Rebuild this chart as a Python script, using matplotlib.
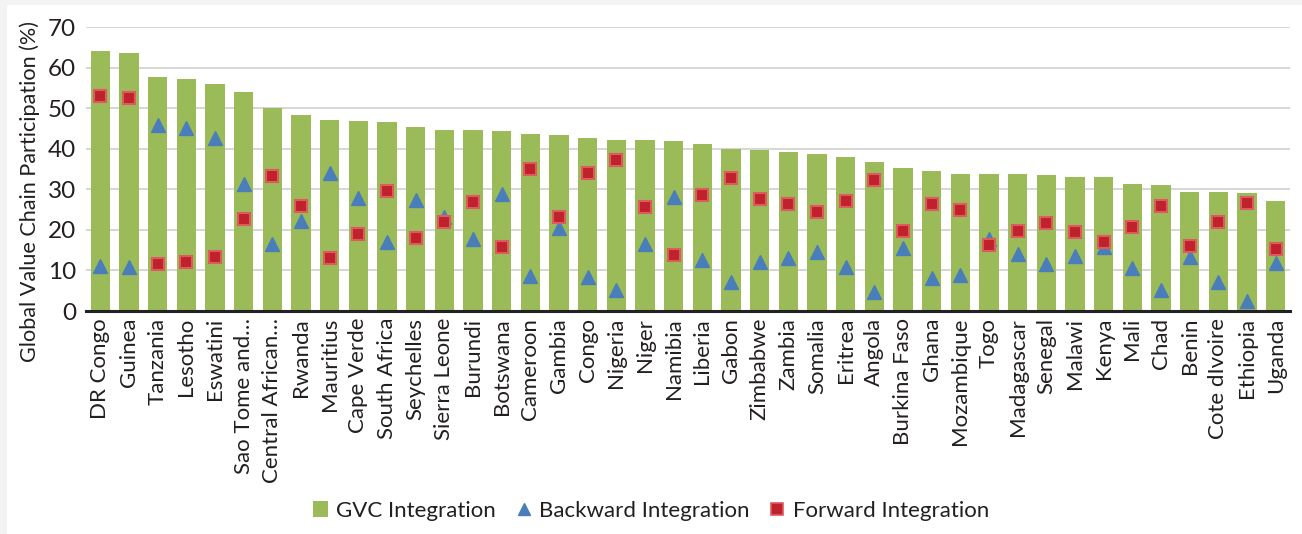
import numpy as np
import matplotlib.pyplot as plt
from matplotlib.lines import Line2D
from matplotlib.patches import Patch, Rectangle

plt.rcParams['font.family'] = ['Lato', 'DejaVu Sans']

countries = ['DR Congo', 'Guinea', 'Tanzania', 'Lesotho', 'Eswatini', 'Sao Tome and\u2026',
             'Central African\u2026', 'Rwanda', 'Mauritius', 'Cape Verde', 'South Africa',
             'Seychelles', 'Sierra Leone', 'Burundi', 'Botswana', 'Cameroon', 'Gambia',
             'Congo', 'Nigeria', 'Niger', 'Namibia', 'Liberia', 'Gabon', 'Zimbabwe',
             'Zambia', 'Somalia', 'Eritrea', 'Angola', 'Burkina Faso', 'Ghana',
             'Mozambique', 'Togo', 'Madagascar', 'Senegal', 'Malawi', 'Kenya', 'Mali',
             'Chad', 'Benin', 'Cote dIvoire', 'Ethiopia', 'Uganda']

gvc = [64.1, 63.5, 57.6, 57.3, 55.9, 54.1, 50.0, 48.4, 47.2, 46.9, 46.6, 45.4, 44.7,
       44.6, 44.4, 43.7, 43.5, 42.7, 42.1, 42.1, 41.8, 41.1, 40.0, 39.7, 39.1, 38.8,
       38.0, 36.8, 35.3, 34.4, 33.8, 33.8, 33.8, 33.5, 33.0, 33.0, 31.3, 31.1, 29.3,
       29.3, 29.2, 27.0]

backward = [11.0, 10.9, 45.9, 45.2, 42.6, 31.3, 16.4, 22.3, 34.0, 27.9, 16.9, 27.4, 23.2,
            17.8, 28.8, 8.6, 20.4, 8.5, 5.2, 16.4, 28.0, 12.6, 7.2, 12.1, 13.0, 14.5,
            10.9, 4.6, 15.5, 8.2, 8.9, 17.8, 14.1, 11.7, 13.6, 15.8, 10.5, 5.2, 13.2,
            7.2, 2.5, 11.9]

forward = [53.0, 52.6, 11.6, 12.2, 13.2, 22.7, 33.4, 26.0, 13.0, 18.9, 29.6, 17.9, 21.9,
           26.8, 15.7, 35.1, 23.1, 34.1, 37.1, 25.7, 13.8, 28.6, 32.8, 27.6, 26.3, 24.3,
           27.1, 32.3, 19.8, 26.3, 24.9, 16.3, 19.7, 21.8, 19.4, 17.1, 20.7, 26.0, 16.0,
           22.0, 26.6, 15.3]

green = '#9bbb59'
blue = '#4a7ebb'
red = '#c0222b'
red_edge = '#dd5a5f'
text_col = '#231f20'

fig = plt.figure(figsize=(13.02, 5.34), dpi=100, facecolor='white')
# thin grey border along the top and left edges
fig.patches.append(Rectangle((0, 1 - 5 / 534), 1, 5 / 534, transform=fig.transFigure,
                             facecolor='#f3f3f3', edgecolor='none', zorder=-1))
fig.patches.append(Rectangle((0, 0), 7 / 1302, 1, transform=fig.transFigure,
                             facecolor='#f3f3f3', edgecolor='none', zorder=-1))

ax = fig.add_axes([0.066, 0.4176, 0.9248, 0.5318])
ax.set_facecolor('none')
x = np.arange(len(countries))

ax.bar(x, gvc, width=0.67, color=green, zorder=2)
ax.plot(x, backward, linestyle='none', marker='^', markersize=9.5, color=blue,
        markeredgecolor=blue, zorder=3)
ax.plot(x, forward, linestyle='none', marker='s', markersize=8.5, color=red,
        markeredgecolor=red_edge, markeredgewidth=1.5, zorder=4)

ax.set_xlim(-0.5, len(countries) - 0.5)
ax.set_ylim(0, 70)
ax.set_yticks(range(0, 71, 10))
ax.yaxis.grid(True, color='#d0d0d0', linewidth=1.2, zorder=1)
ax.set_axisbelow(True)

for side in ['top', 'right', 'left']:
    ax.spines[side].set_visible(False)
ax.spines['bottom'].set_linewidth(2.2)
ax.spines['bottom'].set_color('#222222')
ax.spines['bottom'].set_zorder(5)

ax.set_xticks(x)
ax.set_xticklabels(countries, rotation=90, fontsize=16, color=text_col)
ax.tick_params(axis='x', length=0, pad=5)
ax.tick_params(axis='y', length=0, pad=7, labelsize=17.5, labelcolor=text_col)

# axis title sits a little below the middle of the plot area
fig.text(30 / 1302, 1 - 191 / 534, 'Global Value Chain Participation (%)', rotation=90,
         ha='center', va='center', fontsize=15.6, color=text_col)

handles = [Patch(facecolor=green, edgecolor='none'),
           Line2D([], [], linestyle='none', marker='^', markersize=8.5, color=blue),
           Line2D([], [], linestyle='none', marker='s', markersize=8, color=red,
                  markeredgecolor=red_edge, markeredgewidth=1.2)]
labels = ['GVC Integration', 'Backward Integration', 'Forward Integration']
fig.legend(handles, labels, loc='center', bbox_to_anchor=(0.5, 0.043), ncol=3,
           frameon=False, fontsize=16, handlelength=0.7, handleheight=0.7,
           handletextpad=0.35, columnspacing=0.9, labelcolor=text_col)

fig.savefig('out.png', dpi=100, facecolor=fig.get_facecolor())
